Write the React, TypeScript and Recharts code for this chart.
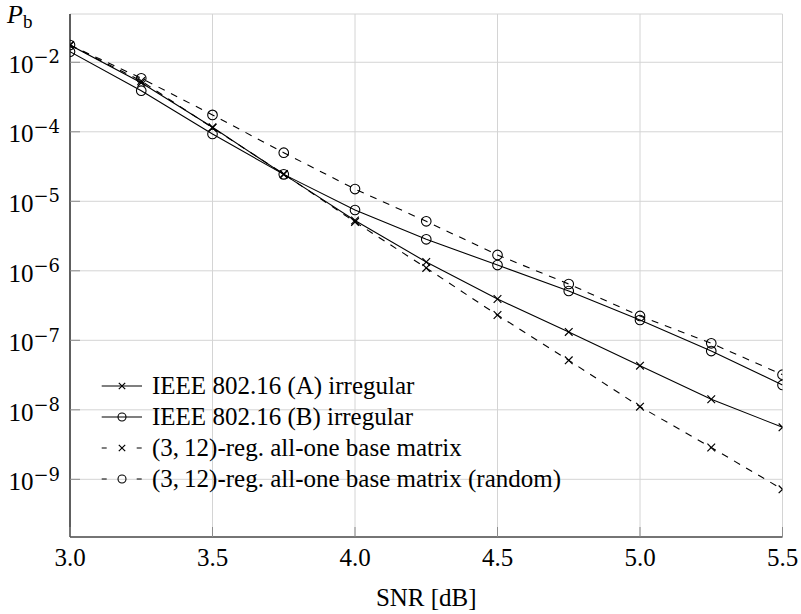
import React from 'react';
import {
  CartesianGrid,
  Legend,
  Line,
  LineChart,
  XAxis,
  YAxis,
} from 'recharts';

// SNR points [dB]
const snr = [3.0, 3.25, 3.5, 3.75, 4.0, 4.25, 4.5, 4.75, 5.0, 5.25, 5.5];

// bit error probability
const ieeeA = [1.77e-3, 5.08e-4, 1.16e-4, 2.44e-5, 5.3e-6, 1.34e-6, 3.93e-7, 1.32e-7, 4.32e-8, 1.42e-8, 5.6e-9];
const ieeeB = [1.42e-3, 3.9e-4, 9.29e-5, 2.44e-5, 7.5e-6, 2.84e-6, 1.21e-6, 5.12e-7, 1.96e-7, 7.01e-8, 2.28e-8];
const allOne = [1.77e-3, 5.38e-4, 1.14e-4, 2.47e-5, 5.04e-6, 1.1e-6, 2.31e-7, 5.15e-8, 1.11e-8, 2.87e-9, 7.18e-10];
const allOneRandom = [1.77e-3, 5.89e-4, 1.75e-4, 5.0e-5, 1.5e-5, 5.15e-6, 1.69e-6, 6.46e-7, 2.24e-7, 9.06e-8, 3.2e-8];

const xTicks = [3.0, 3.5, 4.0, 4.5, 5.0, 5.5];
const yTicks = [1e-3, 1e-4, 1e-5, 1e-6, 1e-7, 1e-8, 1e-9];
// exponents as printed on the original axis
const yTickExponents = ['−2', '−4', '−5', '−6', '−7', '−8', '−9'];

const Y_MIN = 1.48e-10;
const Y_MAX = 4.95e-3;

const series = [
  { key: 'ieeeA', name: 'IEEE 802.16 (A) irregular', dashed: false, mark: 'x' },
  { key: 'ieeeB', name: 'IEEE 802.16 (B) irregular', dashed: false, mark: 'o' },
  { key: 'allOne', name: '(3,\u200912)-reg. all-one base matrix', dashed: true, mark: 'x' },
  { key: 'allOneRandom', name: '(3,\u200912)-reg. all-one base matrix (random)', dashed: true, mark: 'o' },
];

const data = snr.map((x, i) => ({
  snr: x,
  ieeeA: ieeeA[i],
  ieeeB: ieeeB[i],
  allOne: allOne[i],
  allOneRandom: allOneRandom[i],
}));

const FONT = '"Liberation Serif", "Times New Roman", "DejaVu Serif", serif';
const FONT_SIZE = 25;
const TICK_LEN = 10;
const TICK_COLOR = '#8c8c8c';
const GRID_COLOR = '#d4d4d4';
const DASH = '7 7';

function Mark({ cx, cy, mark, size }: { cx: number; cy: number; mark: string; size: number }) {
  if (mark === 'o') {
    return <circle cx={cx} cy={cy} r={size} fill="none" stroke="#000" strokeWidth={1.1} />;
  }
  const s = size * 0.8;
  return (
    <path
      d={`M${cx - s},${cy - s}L${cx + s},${cy + s}M${cx - s},${cy + s}L${cx + s},${cy - s}`}
      stroke="#000"
      strokeWidth={1.2}
      fill="none"
    />
  );
}

function makeDot(mark: string) {
  return (props: any) => {
    const { cx, cy, index, dataKey } = props;
    return (
      <g key={`${dataKey}-${index}`}>
        <Mark cx={cx} cy={cy} mark={mark} size={4.8} />
      </g>
    );
  };
}

function YTick(props: any) {
  const { x, y, payload } = props;
  const idx = yTicks.findIndex(
    (t) => Math.abs(Math.log10(t) - Math.log10(payload.value)) < 1e-6,
  );
  return (
    <g>
      <line x1={x} x2={x + TICK_LEN} y1={y} y2={y} stroke={TICK_COLOR} />
      <text x={x - 10} y={y + 10.7} textAnchor="end" style={{ fontFamily: FONT }} fontSize={FONT_SIZE} fill="#000">
        10
        <tspan dy={-9.5} fontSize={18} style={{ fontFamily: '"DejaVu Serif", serif' }}>
          {yTickExponents[idx]}
        </tspan>
      </text>
    </g>
  );
}

function YTickRight(props: any) {
  const { x, y } = props;
  return <line x1={x} x2={x - TICK_LEN} y1={y} y2={y} stroke={TICK_COLOR} />;
}

function XTick(props: any) {
  const { x, y, payload } = props;
  return (
    <g>
      <line x1={x} x2={x} y1={y} y2={y - TICK_LEN} stroke={TICK_COLOR} />
      <text x={x} y={y + 28.5} textAnchor="middle" style={{ fontFamily: FONT }} fontSize={FONT_SIZE} fill="#000">
        {Number(payload.value).toFixed(1)}
      </text>
    </g>
  );
}

function XTickTop(props: any) {
  const { x, y } = props;
  return <line x1={x} x2={x} y1={y} y2={y + TICK_LEN} stroke={TICK_COLOR} />;
}

function PbLabel(props: any) {
  const vb = props.viewBox ?? { x: 0, y: 14 };
  return (
    <text x={vb.x + 7} y={vb.y + 9} style={{ fontFamily: FONT }} fontSize={26} fill="#000">
      <tspan fontStyle="italic">P</tspan>
      <tspan dy={5} fontSize={19}>b</tspan>
    </text>
  );
}

function SnrLabel(props: any) {
  const vb = props.viewBox ?? { x: 70, y: 537, width: 712.5 };
  return (
    <text x={vb.x + vb.width / 2} y={vb.y + 69} textAnchor="middle" style={{ fontFamily: FONT }} fontSize={FONT_SIZE} fill="#000">
      SNR [dB]
    </text>
  );
}

function LegendBox() {
  return (
    <svg width={680} height={130} style={{ display: 'block' }}>
      {series.map((s, i) => {
        const cy = 16 + i * 31;
        return (
          <g key={s.key}>
            <line
              x1={101.7}
              x2={142}
              y1={cy}
              y2={cy}
              stroke="#000"
              strokeWidth={1.1}
              strokeDasharray={s.dashed ? '5 30' : undefined}
            />
            <Mark cx={122} cy={cy} mark={s.mark} size={4} />
            <text x={152} y={cy + 7.5} style={{ fontFamily: FONT }} fontSize={FONT_SIZE} fill="#000">
              {s.name}
            </text>
          </g>
        );
      })}
    </svg>
  );
}

export default function App() {
  return (
    <div
      style={{
        position: 'absolute',
        left: 0,
        top: 0,
        width: 801,
        height: 614,
        background: '#fff',
        fontFamily: FONT,
      }}
    >
      <LineChart
        width={801}
        height={614}
        data={data}
        margin={{ top: 14, right: 18.5, bottom: 0, left: 0 }}
      >
        <CartesianGrid stroke={GRID_COLOR} strokeWidth={1} />
        <XAxis
          dataKey="snr"
          type="number"
          domain={[3, 5.5]}
          ticks={xTicks}
          height={77}
          tickSize={0}
          tickMargin={0}
          tickLine={false}
          tick={XTick}
          axisLine={{ stroke: '#000', strokeWidth: 1.2 }}
          label={SnrLabel}
          allowDataOverflow
        />
        <XAxis
          xAxisId="top"
          orientation="top"
          dataKey="snr"
          type="number"
          domain={[3, 5.5]}
          ticks={xTicks}
          height={0}
          tickSize={0}
          tickMargin={0}
          tickLine={false}
          tick={XTickTop}
          axisLine={{ stroke: '#000', strokeWidth: 1.2 }}
          allowDataOverflow
        />
        <YAxis
          type="number"
          scale="log"
          domain={[Y_MIN, Y_MAX]}
          ticks={yTicks}
          width={70}
          tickSize={0}
          tickMargin={0}
          tickLine={false}
          tick={YTick}
          axisLine={{ stroke: '#000', strokeWidth: 1.2 }}
          label={PbLabel}
          allowDataOverflow
        />
        <YAxis
          yAxisId="right"
          orientation="right"
          type="number"
          scale="log"
          domain={[Y_MIN, Y_MAX]}
          ticks={yTicks}
          width={0}
          tickSize={0}
          tickMargin={0}
          tickLine={false}
          tick={YTickRight}
          axisLine={{ stroke: '#000', strokeWidth: 1.2 }}
          allowDataOverflow
        />
        <Legend
          layout="vertical"
          align="center"
          verticalAlign="middle"
          content={LegendBox}
          wrapperStyle={{ left: 0, top: 370, width: 680, height: 130 }}
        />
        {series.map((s) => (
          <Line
            key={s.key}
            type="linear"
            dataKey={s.key}
            name={s.name}
            stroke="#000"
            strokeWidth={1.1}
            strokeDasharray={s.dashed ? DASH : undefined}
            dot={makeDot(s.mark)}
            activeDot={false}
            isAnimationActive={false}
          />
        ))}
      </LineChart>
    </div>
  );
}
